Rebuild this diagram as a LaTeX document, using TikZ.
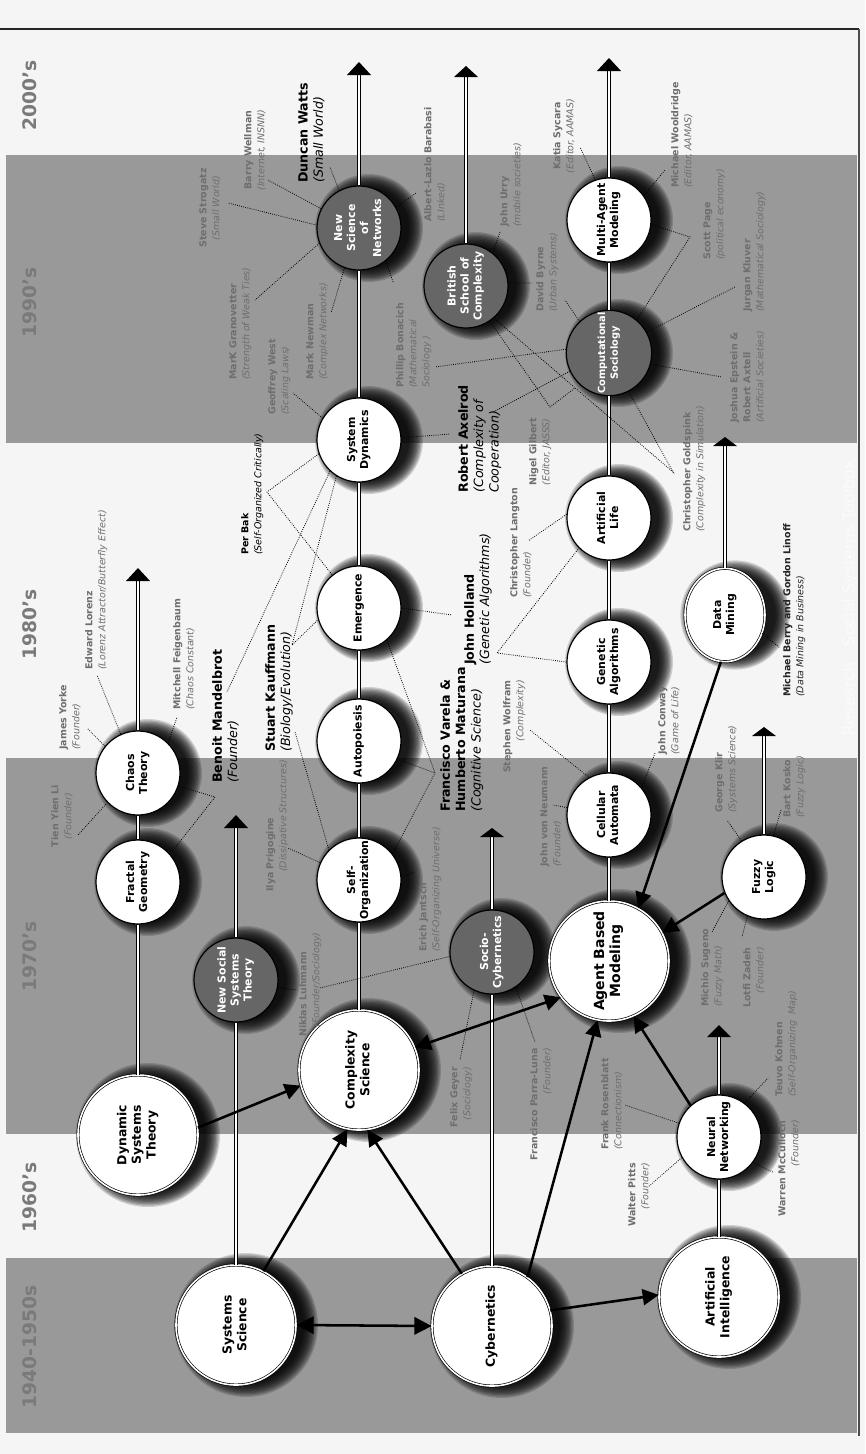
\documentclass[tikz,border=0pt]{standalone}
\usepackage{fontspec}
\setmainfont{DejaVu Sans}
\usepackage{graphicx}
\usetikzlibrary{arrows.meta,shapes.geometric}
\definecolor{bgc}{HTML}{F5F5F5}
\definecolor{bandc}{HTML}{999999}
\definecolor{dkc}{HTML}{666666}
\definecolor{labgray}{HTML}{6E6E6E}
\definecolor{erac}{HTML}{7A7A7A}
\newcommand\rtx[1]{\rotatebox{90}{\begin{tabular}{@{}c@{}}#1\end{tabular}}}
\newcommand\lbx[2]{\textbf{#1}\\\textit{#2}}
\newcommand\cnx[3]{\coordinate (#2) at (#3);\draw[dot] (#1) -- (#2);}
\newcommand\tipx[2]{\fill (#1) -- ++(-12,#2) -- ++(24,0) -- cycle;}
\begin{document}
\begin{tikzpicture}[x=0.75pt,y=-0.75pt,
  cbig/.style={circle,draw=black,line width=0.5pt,double=white,double distance=1.2pt,fill=white,minimum size=90pt,inner sep=0pt,font=\bfseries\fontsize{9.3}{11}\selectfont},
  csm/.style={circle,draw=black,line width=0.9pt,fill=white,minimum size=63pt,inner sep=0pt,font=\bfseries\fontsize{8.2}{9.8}\selectfont},
  cdk/.style={csm,fill=dkc,text=white},
  tl/.style={draw=black,line width=0.9pt,double=white,double distance=1.8pt},
  thk/.style={line width=1.9pt,black},
  dot/.style={densely dotted,line width=0.6pt,black},
  era/.style={rotate=90,font=\bfseries\fontsize{14}{16}\selectfont,text=erac},
  lab/.style={rotate=90,inner sep=0pt,text=labgray,font=\fontsize{7.1}{9.75}\selectfont},
  labL/.style={lab,align=left,anchor=north west},
  labR/.style={lab,align=right,anchor=north east},
  labC/.style={lab,align=center,anchor=north},
  big/.style={text=black,font=\fontsize{9.5}{11.5}\selectfont},
  blk/.style={text=black},
]
\useasboundingbox (0,0) rectangle (865,1454);
% background and era bands
\fill[bgc] (0,0) rectangle (865,1454);
\fill[bandc] (6,155) rectangle (857,443);
\fill[bandc] (6,758) rectangle (857,1134);
\fill[bandc] (6,1258) rectangle (857,1433);
\draw[line width=1.2pt,black!85] (0,29) -- (859,29);
\draw[line width=0.8pt,black!70] (859,29) -- (859,1436);
% era labels
\node[era] (e2000) at (30,95) {2000's};
\node[era] (e1990) at (30,302) {1990's};
\node[era] (e1980) at (30,624) {1980's};
\node[era] (e1970) at (30,956) {1970's};
\node[era] (e1960) at (30,1197) {1960's};
\node[era] (e1940) at (30,1347) {1940-1950s};
\node[rotate=90,text=white,opacity=0.6,font=\fontsize{12}{12}\selectfont] (wm) at (850,598) {Research\quad Social Systems Toolbox};
% shadows (stacked translucent discs, offset to the right)
\foreach \x/\y/\r in {359/228/31.5,609/220/31.5,466/286/31.5,609/353/31.5,359/440/31.5,609/518/31.5,359/608/31.5,609/662/31.5,359/741/31.5,138/773/31.5,609/815/31.5,764/877/31.5,138/882/31.5,359/880/31.5,492/952/31.5,236/980/31.5,719/1137/31.5,609/961/45,359/1070/45,138/1135/45,719/1297/45,236/1325/45,492/1326/45,725/615/32}
  {\foreach \k in {0,...,11}
    {\fill[black,opacity=0.16] (\x+10,\y) circle[radius={(\r+9-\k*0.95)*1pt}];}}
% circles
\node[cbig] (ss) at (236,1325) {\rtx{Systems\\Science}};
\node[cbig] (cyb) at (492,1326) {\rtx{Cybernetics}};
\node[cbig] (ai) at (719,1297) {\rtx{Artificial\\Intelligence}};
\node[cbig] (dst) at (138,1135) {\rtx{Dynamic\\Systems\\Theory}};
\node[cbig] (cs) at (359,1070) {\rtx{Complexity\\Science}};
\node[cbig,font=\bfseries\fontsize{10.5}{12}\selectfont] (abm) at (609,961) {\rtx{Agent Based\\Modeling}};
\node[cbig,ellipse,minimum width=60pt,minimum height=70pt,font=\bfseries\fontsize{8.2}{9.8}\selectfont] (dm) at (725,615) {\rtx{Data\\Mining}};
\node[csm] (nn) at (719,1137) {\rtx{Neural\\Networking}};
\node[cdk] (nsst) at (236,980) {\rtx{New Social\\Systems\\Theory}};
\node[csm] (fg) at (138,882) {\rtx{Fractal\\Geometry}};
\node[csm] (chaos) at (138,773) {\rtx{Chaos\\Theory}};
\node[csm] (so) at (359,880) {\rtx{Self-\\Organization}};
\node[csm] (auto) at (359,741) {\rtx{Autopoiesis}};
\node[csm] (emg) at (359,608) {\rtx{Emergence}};
\node[csm] (sd) at (359,440) {\rtx{System\\Dynamics}};
\node[cdk] (nsn) at (359,228) {\rtx{New\\Science\\of\\Networks}};
\node[cdk] (socy) at (492,952) {\rtx{Socio-\\Cybernetics}};
\node[csm] (ca) at (609,815) {\rtx{Cellular\\Automata}};
\node[csm] (ga) at (609,662) {\rtx{Genetic\\Algorithms}};
\node[csm] (al) at (609,518) {\rtx{Artificial\\Life}};
\node[cdk,font=\bfseries\fontsize{7.4}{9.4}\selectfont] (comp) at (609,353) {\rtx{Computational\\Sociology}};
\node[csm] (mam) at (609,220) {\rtx{Multi-Agent\\Modeling}};
\node[cdk] (bsc) at (466,286) {\rtx{British\\School of\\Complexity}};
\node[csm] (fl) at (764,877) {\rtx{Fuzzy\\Logic}};
% timelines
\coordinate (t1) at (138,568); \coordinate (t1b) at (138,580);
\draw[tl] (dst) -- (fg); \draw[tl] (fg) -- (chaos); \draw[tl] (chaos) -- (t1b); \tipx{t1}{13}
\coordinate (t2) at (236,815); \coordinate (t2b) at (236,827);
\draw[tl] (ss) -- (nsst); \draw[tl] (nsst) -- (t2b); \tipx{t2}{13}
\coordinate (t3) at (359,62); \coordinate (t3b) at (359,74);
\draw[tl] (cs) -- (so); \draw[tl] (so) -- (auto); \draw[tl] (auto) -- (emg); \draw[tl] (emg) -- (sd); \draw[tl] (sd) -- (nsn); \draw[tl] (nsn) -- (t3b); \tipx{t3}{13}
\coordinate (t4) at (492,828); \coordinate (t4b) at (492,836);
\draw[tl] (cyb) -- (socy); \draw[tl] (socy) -- (t4b); \tipx{t4}{9}
\coordinate (t5) at (466,66); \coordinate (t5b) at (466,76);
\draw[tl] (bsc) -- (t5b); \tipx{t5}{11}
\coordinate (t6) at (609,58); \coordinate (t6b) at (609,70);
\draw[tl] (abm) -- (ca); \draw[tl] (ca) -- (ga); \draw[tl] (ga) -- (al); \draw[tl] (al) -- (comp); \draw[tl] (comp) -- (mam); \draw[tl] (mam) -- (t6b); \tipx{t6}{13}
\coordinate (t7) at (719,1025); \coordinate (t7b) at (719,1037);
\draw[tl] (ai) -- (nn); \draw[tl] (nn) -- (t7b); \tipx{t7}{12}
\coordinate (t8) at (725,437); \coordinate (t8b) at (725,445);
\draw[tl] (dm) -- (t8b); \tipx{t8}{9}
\coordinate (t9) at (764,727); \coordinate (t9b) at (764,735);
\draw[tl] (fl) -- (t9b); \tipx{t9}{9}
% thick arrows
\draw[thk,{Triangle[length=13pt,width=13pt]}-{Triangle[length=13pt,width=13pt]}] (ss.east) -- (cyb.west);
\draw[thk,-{Triangle[length=12pt,width=12pt]}] (ss.63) -- (cs.259);
\draw[thk,-{Triangle[length=12pt,width=12pt]}] (cyb.120) -- (cs.278);
\draw[thk,-{Triangle[length=12pt,width=12pt]}] (dst.7) -- (cs.195);
\draw[thk,{Triangle[length=12pt,width=12pt]}-{Triangle[length=12pt,width=12pt]}] (cs.22) -- (abm.217);
\draw[thk,-{Triangle[length=12pt,width=12pt]}] (cyb.54) -- (abm.259);
\draw[thk,-{Triangle[length=12pt,width=12pt]}] (cyb.15) -- (ai.178);
\draw[thk,-{Triangle[length=12pt,width=12pt]}] (nn.132) -- (abm.294);
\draw[thk,-{Triangle[length=12pt,width=12pt]}] (dm.265) -- (abm.61);
\draw[thk,-{Triangle[length=12pt,width=12pt]}] (fl.202) -- (abm.28);
% dotted connectors
\cnx{nsn.176}{cStro}{228,203}
\cnx{nsn.153}{cWell}{268,180}
\cnx{nsn.118}{cWatt}{330,167}
\cnx{nsn.29}{cBara}{416,193}
\cnx{nsn.201}{cGran}{255,300}
\cnx{nsn.250}{cNewm}{331,313}
\cnx{nsn.309}{cBona}{393,282}
\cnx{sd.149}{cWest}{293,393}
\cnx{sd.3}{cAxe1}{450,434}
\cnx{sd.227}{cMand}{227,692}
\coordinate (vPer) at (267,492); \draw[dot] (sd.199) -- (vPer) -- (emg.129);
\coordinate (vKau) at (292,645); \draw[dot] (sd.238) -- (vKau) -- (emg.196);
\cnx{so.135}{cKau2}{295,732}
\cnx{emg.0}{cHoll}{452,615}
\coordinate (vVar) at (435,773); \draw[dot] (emg.311) -- (vVar) -- (so.38); \draw[dot] (auto.335) -- (vVar);
\cnx{so.156}{cPrig}{288,848}
\cnx{so.3}{cJant}{414,872}
\cnx{chaos.141}{cYork}{87,728}
\cnx{chaos.114}{cLore}{97,675}
\cnx{chaos.45}{cFeig}{177,717}
\cnx{chaos.224}{cTien}{78,835}
\coordinate (vMan) at (215,797); \draw[dot] (chaos.342) -- (vMan) -- (fg.41);
\cnx{nsst.350}{cLuh1}{297,990}
\cnx{socy.186}{cLuh2}{320,988}
\cnx{socy.245}{cGeye}{460,1060}
\cnx{socy.304}{cParr}{535,1042}
\cnx{nn.161}{cRose}{625,1105}
\cnx{nn.209}{cPitt}{648,1187}
\cnx{nn.323}{cMcCu}{773,1172}
\cnx{nn.53}{cKohn}{768,1078}
\cnx{fl.214}{cSuge}{712,932}
\cnx{fl.247}{cZade}{742,937}
\cnx{fl.122}{cKlir}{727,820}
\cnx{fl.77}{cKosk}{781,810}
\cnx{dm.334}{cBerr}{780,648}
\cnx{ca.170}{cNeum}{553,805}
\cnx{ca.118}{cWolf}{530,730}
\cnx{ca.40}{cConw}{655,753}
\coordinate (vHol) at (497,653); \draw[dot] (ga.180) -- (vHol) -- (al.225);
\cnx{al.175}{cLang}{528,541}
\cnx{comp.175}{cBon2}{435,367}
\cnx{comp.205}{cAxe2}{493,412}
\cnx{comp.133}{cByr2}{565,300}
\coordinate (vPag) at (690,237); \draw[dot] (comp.50) -- (vPag) -- (mam.354);
\cnx{comp.29}{cKluv}{735,287}
\cnx{comp.345}{cEpst}{722,377}
\coordinate (vGol) at (673,472); \draw[dot] (comp.297) -- (vGol) -- (bsc.311);
\cnx{mam.109}{cSyca}{580,147}
\cnx{mam.35}{cWool}{665,170}
\cnx{bsc.51}{cUrry}{500,232}
\cnx{bsc.4}{cByr1}{532,283}
\coordinate (vGil) at (550,407); \coordinate (eGil) at (575,388); \draw[dot] (bsc.304) -- (vGil) -- (eGil);
% person labels
\node[labC] (lStro) at (199,208) {\lbx{Steve Strogatz}{(Small World)}};
\node[labC] (lWell) at (244,150) {\lbx{Barry Wellman}{(Internet, INSNN)}};
\node[labL,big] (lWatt) at (298,183) {\lbx{Duncan Watts}{(Small World)}};
\node[labL] (lBara) at (424,222) {\lbx{Albert-Lazlo Barabasi}{(LInked)}};
\node[labL] (lGran) at (229,380) {\lbx{MarK Granovetter}{(Strength of Weak Ties)}};
\node[labL] (lNewm) at (306,380) {\lbx{Mark Newman}{(Complex Networks)}};
\node[labL] (lWest) at (268,415) {\lbx{Geoffrey West}{(Scaling Laws)}};
\node[labL] (lBona) at (396,388) {\textbf{Phillip Bonacich}\\\textit{(Mathematical}\\\textit{Sociology )}};
\node[labL] (lUrry) at (500,227) {\lbx{John Urry}{(mobile societies)}};
\node[labC] (lSyca) at (553,136) {\lbx{Katia Sycara}{(Editor, AAMAS)}};
\node[labL] (lWool) at (671,188) {\lbx{Michael Wooldridge}{(Editor, AAMAS)}};
\node[labL] (lByrn) at (536,312) {\lbx{David Byrne}{(Urban Systems)}};
\node[labL] (lPage) at (703,260) {\lbx{Scott Page}{(political economy)}};
\node[labL] (lKluv) at (743,312) {\lbx{Jurgan Kluver}{(Mathematical Sociology)}};
\node[labL] (lEpst) at (730,423) {\textbf{Joshua Epstein \&}\\\textbf{Robert Axtell}\\\textit{(Artificial Societies)}};
\node[labL,big] (lAxel) at (458,493) {\textbf{Robert Axelrod}\\\textit{(Complexity of}\\\textit{Cooperation)}};
\node[labC] (lGilb) at (529,452) {\lbx{Nigel Gilbert}{(Editor, JASSS)}};
\node[labL] (lGold) at (683,532) {\lbx{Christopher Goldspink}{(Complexity in Simulation)}};
\node[labL] (lLang) at (510,598) {\lbx{Christopher Langton}{(Founder)}};
\node[labL,big] (lHoll) at (464,665) {\lbx{John Holland}{(Genetic Algorithms)}};
\node[labL,blk] (lPerB) at (241,555) {\lbx{Per Bak}{(Self-Organized Critically)}};
\node[labL,big] (lMand) at (212,783) {\lbx{Benoit Mandelbrot}{(Founder)}};
\node[labL,big] (lKauf) at (265,752) {\lbx{Stuart Kauffmann}{(Biology/Evolution)}};
\node[labL,big] (lVare) at (440,812) {\textbf{Francisco Varela \&}\\\textbf{Humberto Maturana}\\\textit{(Cognitive Science)}};
\node[labL] (lPrig) at (266,892) {\textbf{Ilya Prigogine}\\\hspace*{15pt}\textit{(Dissipative Structures)}};
\node[labL] (lLuhm) at (299,1037) {\textbf{Niklas Luhmann}\\\hspace*{7pt}\textit{(Founder/Sociology)}};
\node[labL] (lJant) at (419,952) {\lbx{Erich Jantsch}{(Self-Organizing Universe)}};
\node[labR] (lGeye) at (450,1067) {\lbx{Felix Geyer}{(Sociology)}};
\node[labR] (lParr) at (530,1048) {\lbx{Francisco Parra-Luna}{(Founder)}};
\node[labL] (lRose) at (601,1150) {\lbx{Frank Rosenblatt}{(Connectionism)}};
\node[labR] (lPitt) at (628,1163) {\lbx{Walter Pitts}{(Founder)}};
\node[labR] (lMcCu) at (778,1120) {\lbx{Warren McCulloch}{(Founder)}};
\node[labL] (lKohn) at (775,1097) {\lbx{Teuvo Kohnen}{(Self-Organizing\ \ Map)}};
\node[labL] (lSuge) at (701,1007) {\lbx{Michio Sugeno}{(Fuzzy Math)}};
\node[labR] (lZade) at (743,947) {\lbx{Lotfi Zadeh}{(Founder)}};
\node[labL] (lKlir) at (715,813) {\lbx{George Klir}{(Systems Science)}};
\node[labL] (lKosk) at (783,818) {\lbx{Bart Kosko}{(Fuzzy Logic)}};
\node[labL,text=black!85] (lBerr) at (783,697) {\lbx{Michael Berry and Gordon Linoff}{(Data Mining in Business)}};
\node[labL] (lNeum) at (540,867) {\lbx{John von Neumann}{(Founder)}};
\node[labR] (lWolf) at (503,680) {\lbx{Stephen Wolfram}{(Complexity)}};
\node[labL] (lConw) at (658,755) {\lbx{John Conway}{(Game of Life)}};
\node[labL] (lYork) at (59,750) {\lbx{James Yorke}{(Founder)}};
\node[labL] (lLore) at (85,670) {\lbx{Edward Lorenz}{(Lorenz Attractor/Butterfly Effect)}};
\node[labL] (lFeig) at (173,710) {\lbx{Mitchell Feigenbaum}{(Chaos Constant)}};
\node[labC] (lTien) at (51,816) {\lbx{Tien Yien Li}{(Founder)}};
\end{tikzpicture}
\end{document}
